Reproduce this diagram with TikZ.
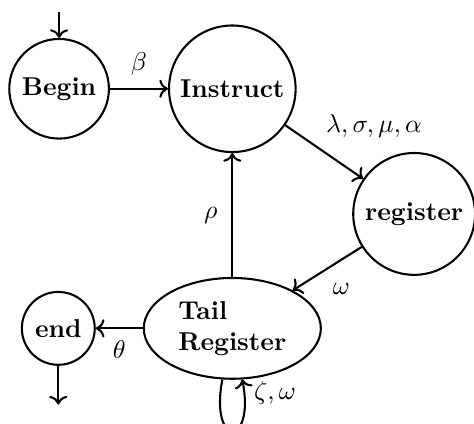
\documentclass[tikz,border=0pt]{standalone}
\usetikzlibrary{arrows.meta, positioning, shapes.geometric}

\begin{document}
\begin{tikzpicture}[
  node distance=22.5pt,
  state/.style={draw, circle, thick, font=\bfseries},
  tailstate/.style={draw, ellipse, thick, align=left, font=\bfseries},
  flow/.style={->, thick}
]
\useasboundingbox (0,0) rectangle (183.7pt,-164pt);

% States
\node[state] (begin) at (22.9pt,-34.4pt) {Begin};
\node[state, right=22.5pt of begin] (instruct) {Instruct};
\node[state] (register) at (160.5pt,-82.9pt) {register};
\node[tailstate, below=48pt of instruct] (tail) {Tail\\Register};
\node[state, left=18.2pt of tail] (end) {end};

% Entry and exit
\coordinate[above=10pt of begin] (start);
\coordinate[below=15pt of end] (stop);

\draw[flow] (start) -- (begin);
\draw[flow] (end) -- (stop);

\draw[flow] (begin) -- node[auto, yshift=1.5pt] {$\beta$} (instruct);
\draw[flow] (instruct) -- node[auto, xshift=-3pt, yshift=2pt] {$\lambda,\sigma,\mu,\alpha$} (register);
\draw[flow] (register) -- node[auto, xshift=-1.5pt, yshift=-2pt] {$\omega$} (tail);
\draw[flow] (tail) -- node[auto, xshift=-2pt] {$\rho$} (instruct);
\draw[flow] (tail) -- node[auto, yshift=-1pt] {$\theta$} (end);
\path (tail) edge[flow, out=-101, in=-79, min distance=27pt] node[right, pos=0.9, yshift=2pt] {$\zeta,\omega$} (tail);

\end{tikzpicture}
\end{document}
